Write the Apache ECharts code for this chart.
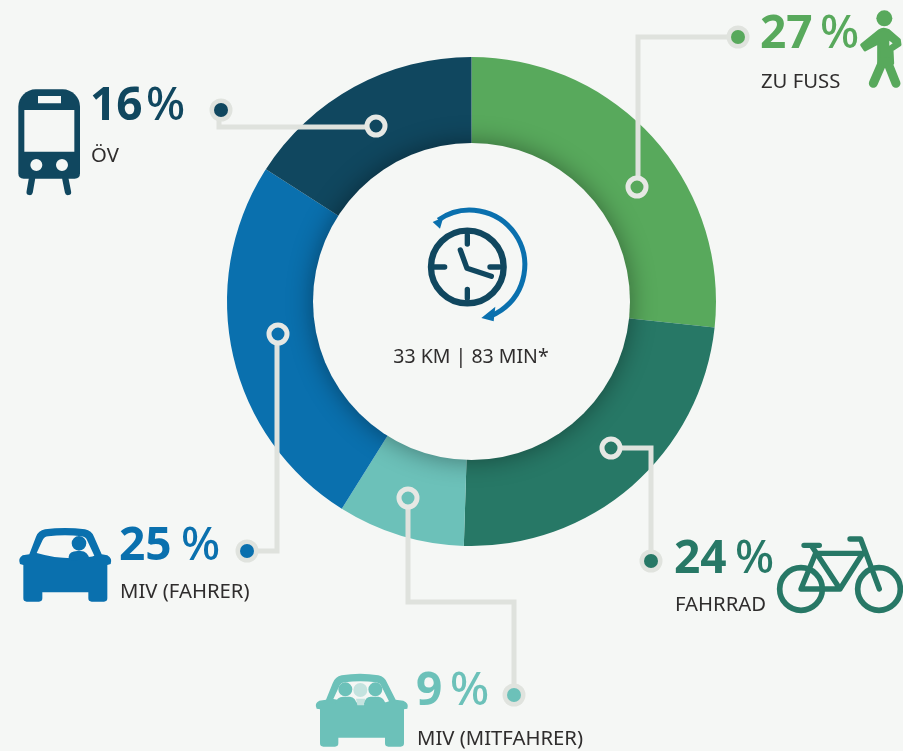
<!DOCTYPE html>
<html><head><meta charset="utf-8">
<style>html,body{margin:0;padding:0;background:#f5f7f5}#c{width:903px;height:751px}</style>
<script src="https://cdn.jsdelivr.net/npm/echarts@6/dist/echarts.min.js"></script>
</head><body><div id="c"></div>
<script>
const categories = ['ZU FUSS','FAHRRAD','MIV (MITFAHRER)','MIV (FAHRER)','ÖV'];
const printedPercent = [27,24,9,25,16];
const sliceShares = [26.7,23.8,8.4,25.2,15.9];
const colors = ['#58a95c','#277866','#6cc1b9','#0a70ae','#10475f'];
const centerLabel = '33 KM | 83 MIN*';

const BG='#f5f7f5', LINE='#dfe2dd', TXT='#2f2d2d';
const chart = echarts.init(document.getElementById('c'));
const Z=100;
const els=[];
let n=0;
function p(ox,oy,d,style,z){
  const name='icon'+(n++);
  echarts.graphic.registerShape(name, echarts.graphic.extendPath(d,{}));
  els.push({type:name,x:ox,y:oy,scaleX:1/3,scaleY:1/3,z:z||Z+2,style:Object.assign({fill:'none'},style)});
}
function leader(points,ring,dot,color){
  els.push({type:'polyline',z:Z,shape:{points},style:{stroke:LINE,lineWidth:5,fill:null}});
  els.push({type:'circle',z:Z+1,shape:{cx:ring[0],cy:ring[1],r:9},style:{fill:color,stroke:'#e6e8e4',lineWidth:5}});
  els.push({type:'circle',z:Z+1,shape:{cx:dot[0],cy:dot[1],r:11.5},style:{fill:'#e0e3de'}});
  els.push({type:'circle',z:Z+2,shape:{cx:dot[0],cy:dot[1],r:7},style:{fill:color}});
}
function label(i,x,y,px,ny){
  els.push({type:'text',z:Z+2,x:x,y:y,style:{text:String(printedPercent[i]),fill:colors[i],font:'bold 46px "Noto Sans"',verticalAlign:'middle',align:'left'}});
  els.push({type:'text',z:Z+2,x:px,y:y,style:{text:'%',fill:colors[i],font:'500 46px "Noto Sans"',verticalAlign:'middle',align:'left'}});
  els.push({type:'text',z:Z+2,x:x+1,y:ny,style:{text:categories[i],fill:TXT,font:'20.3px "Noto Sans"',verticalAlign:'middle',align:'left'}});
}
// inner disk
els.push({type:'circle',z:Z-1,shape:{cx:471.5,cy:301.5,r:158.5},style:{fill:BG,shadowBlur:26,shadowColor:'rgba(0,0,0,0.4)'}});
// leaders
leader([[738,37],[638,37],[638,187]],[637,187],[738,37],colors[0]);
leader([[611,448],[651,448],[651,561]],[611,448],[651,561],colors[1]);
leader([[408,498],[408,602],[514,602],[514,695]],[408,498],[514,695],colors[2]);
leader([[277,334],[277,551],[247,551]],[278,334],[247,551],colors[3]);
leader([[376,127],[219,127],[219,110]],[376,126],[221,110],colors[4]);
// labels
label(0,760,35,820,82);
label(1,674,560,735,605.5);
label(2,416,692,450,739);
label(3,119,546.5,181,592);
label(4,90,107,146,156);
// centre text
els.push({type:'text',z:Z+2,x:471,y:357,style:{text:centerLabel,fill:TXT,font:'19.5px "Noto Sans"',align:'center',verticalAlign:'middle'}});

// clock (zoom coords, origin 370,190)
const NAVY=colors[4], BLUE=colors[3];
p(370,190,'M292 122A109 109 0 1 1 291.9 122Z',{stroke:NAVY,lineWidth:19});
p(370,190,'M292 135V162M292 298V325M192 231H224M360 231H388M271 180L291 235L364 259',{stroke:NAVY,lineWidth:16,lineCap:'round',lineJoin:'round'});
p(370,190,'M205 90A165 165 0 1 1 362 378',{stroke:BLUE,lineWidth:15});
p(370,190,'M334 384L376 350L371 394Z M188 96L220 82L210 116Z',{fill:BLUE});

// train (origin 0,70)
p(0,70,'M55 110A52 52 0 0 1 107 58H188A52 52 0 0 1 240 110V310Q240 326 224 326H71Q55 326 55 310Z',{fill:NAVY});
p(0,70,'M73 120H223V245H73ZM114 78H183V100H114Z',{fill:BG});
p(0,70,'M91 285a18 18 0 1 0 36 0a18 18 0 1 0 -36 0ZM168 285a18 18 0 1 0 36 0a18 18 0 1 0 -36 0Z',{fill:BG});
p(0,70,'M96 326L89 366M196 326L204 366',{stroke:NAVY,lineWidth:19,lineCap:'round'});

// person (origin 620,0)
const G=colors[0];
p(620,0,'M769 55a24 24 0 1 0 48 0a24 24 0 1 0 -48 0Z',{fill:G});
p(620,0,'M778 92Q790 84 806 92L838 120L840 134L816 150L818 190H776L776 128L735 150L725 135Z',{fill:G,stroke:G,lineWidth:9,lineJoin:'round'});
p(620,0,'M788 185L760 250M802 185L828 250',{stroke:G,lineWidth:27,lineCap:'round'});
p(620,0,'M808 122L818 130L808 137Z',{fill:BG});

// bike (origin 630,520)
const D=colors[1];
p(630,520,'M449 207a64 64 0 1 0 128 0a64 64 0 1 0 -128 0ZM683 207a64 64 0 1 0 128 0a64 64 0 1 0 -128 0Z',{stroke:D,lineWidth:17});
p(630,520,'M522 76H568M545 78L630 207H513L557 100H698L630 207M660 57H692L748 207',{stroke:D,lineWidth:16,lineCap:'round',lineJoin:'round'});

// blue car (origin 0,510)
p(0,510,'M70 165L60 162Q53 145 68 136L88 133L108 80Q115 62 135 58Q195 50 255 58Q275 62 282 80L305 133L322 136Q338 145 332 162L322 165V265Q322 275 312 275H275Q265 275 265 265V247H127V265Q127 275 117 275H80Q70 275 70 265Z',{fill:BLUE});
p(0,510,'M110 129L128 90Q133 80 145 79Q195 73 245 79Q257 80 262 92L283 137Q280 139 265 141Q190 152 110 129Z',{fill:BG});
p(0,510,'M215 100a22 22 0 1 0 44 0a22 22 0 1 0 -44 0ZM206 152V140Q208 124 232 123H242Q264 124 268 147Z',{fill:BLUE});

// teal car (origin 300,650)
const T=colors[2];
p(300,650,'M60 178L50 176Q42 160 58 152L78 149L98 100Q105 80 125 76Q180 66 235 76Q255 80 262 100L287 149L310 152Q328 160 322 176L312 178V280Q312 290 302 290H265Q255 290 255 280V263H115V280Q115 290 105 290H70Q60 290 60 280Z',{fill:T});
p(300,650,'M100 147L118 108Q123 98 135 97Q180 91 228 97Q240 98 245 110L267 154L258 157Q180 164 100 147Z',{fill:BG});
p(300,650,'M160 120a21 21 0 1 0 42 0a21 21 0 1 0 -42 0ZM168 146H196L192 166H172Z',{fill:'#c4e3df'});
p(300,650,'M115 118a21 21 0 1 0 42 0a21 21 0 1 0 -42 0ZM205 118a21 21 0 1 0 42 0a21 21 0 1 0 -42 0Z',{fill:T});
p(300,650,'M106 162Q110 140 130 140H150Q167 143 170 162ZM192 162Q196 140 212 140H235Q252 143 257 162Z',{fill:T});

chart.setOption({
  animation:false,
  backgroundColor:BG,
  series:[{
    type:'pie',
    center:[471.5,301.5],
    radius:[150,244.5],
    startAngle:90,
    clockwise:true,
    silent:true,
    label:{show:false},
    labelLine:{show:false},
    itemStyle:{borderWidth:0},
    data:categories.map((c,i)=>({name:c,value:sliceShares[i],itemStyle:{color:colors[i]}}))
  }],
  graphic:{elements:els}
});
</script></body></html>
